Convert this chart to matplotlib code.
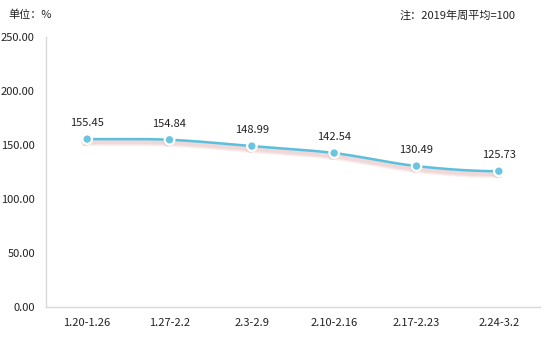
import numpy as np
import matplotlib.pyplot as plt
import matplotlib.patheffects as pe

plt.rcParams['font.family'] = ['Noto Sans CJK SC', 'DejaVu Sans']

# 数据
weeks = ['1.20-1.26', '1.27-2.2', '2.3-2.9', '2.10-2.16', '2.17-2.23', '2.24-3.2']
values = [155.45, 154.84, 148.99, 142.54, 130.49, 125.73]
yticks = [0, 50, 100, 150, 200, 250]


# 平滑曲线 (三次 Hermite)
def smooth_curve(x, y, n=30):
    x = np.asarray(x, float)
    y = np.asarray(y, float)
    d = np.diff(y) / np.diff(x)
    m = np.zeros_like(y)
    m[1:-1] = (d[:-1] + d[1:]) / 2
    xs, ys = [], []
    for i in range(len(x) - 1):
        h = x[i + 1] - x[i]
        t = np.linspace(0, 1, n)
        h00 = 2 * t**3 - 3 * t**2 + 1
        h10 = t**3 - 2 * t**2 + t
        h01 = -2 * t**3 + 3 * t**2
        h11 = t**3 - t**2
        xs.append(x[i] + t * h)
        ys.append(h00 * y[i] + h10 * h * m[i] + h01 * y[i + 1] + h11 * h * m[i + 1])
    return np.concatenate(xs), np.concatenate(ys)


fig = plt.figure(figsize=(5.45, 3.42), dpi=100)
ax = fig.add_axes([46 / 545, 35 / 342, 494 / 545, 270 / 342])

x = np.arange(len(weeks))
sx, sy = smooth_curve(x, values)

# 阴影（模糊效果用几层叠加）
shadow = [pe.SimpleLineShadow(offset=(-0.5, -2), shadow_color='#c0504d', alpha=0.08, linewidth=w)
          for w in (6, 4.5, 3)]
ax.plot(sx, sy, color='#5bc0de', lw=1.8, zorder=2, path_effects=shadow + [pe.Normal()])
ax.scatter(x, values, s=48, color='#6cc5e0', edgecolors='white', linewidths=1.6, zorder=3,
           path_effects=[pe.SimplePatchShadow(offset=(-1, -1.5), shadow_rgbFace='#c0504d', alpha=0.15),
                         pe.Normal()])

for xi, v in zip(x, values):
    ax.annotate(f'{v:.2f}', (xi, v), xytext=(0, 8), textcoords='offset points',
                ha='center', va='bottom', fontsize=8, color='#222222')

ax.set_xlim(-0.5, len(weeks) - 0.5)
ax.set_ylim(0, 250)
ax.set_xticks(x)
ax.set_xticklabels(weeks)
ax.set_yticks(yticks)
ax.set_yticklabels([f'{t:.2f}' for t in yticks])
ax.tick_params(length=0, labelsize=8, colors='#222222')
ax.tick_params(axis='x', pad=8)
ax.tick_params(axis='y', pad=8)

for s in ['top', 'right']:
    ax.spines[s].set_visible(False)
for s in ['left', 'bottom']:
    ax.spines[s].set_color('#d9d9d9')
    ax.spines[s].set_linewidth(1)

fig.text(8 / 545, 1 - 15 / 342, '单位：%', fontsize=8, va='center', ha='left', color='#222222')
fig.text(516 / 545, 1 - 15 / 342, '注：2019年周平均=100', fontsize=8, va='center', ha='right', color='#222222')

fig.savefig('out.png', dpi=100)
